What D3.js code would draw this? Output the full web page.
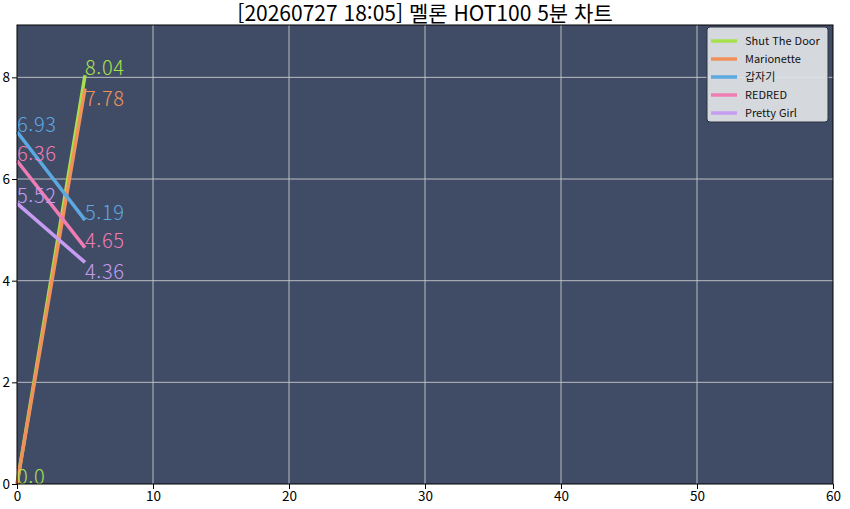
<!DOCTYPE html>
<html lang="ko">
<head>
<meta charset="UTF-8">
<script src="https://d3js.org/d3.v7.min.js"></script>
<title>melon hot100</title>
<style>
  body { margin: 0; background: #fff; }
  text { font-family: "Noto Sans CJK KR", "Noto Sans", sans-serif; }
</style>
</head>
<body>
<script>
// 데이터
var songs = ["Shut The Door", "Marionette", "갑자기", "REDRED", "Pretty Girl"];
var colors = ["#a6e04e", "#f0915a", "#5ca8e0", "#f07cb4", "#c69cf0"];
var times = [0, 5];
var values = [
  [0.0, 8.04],
  [0.0, 7.78],
  [6.93, 5.19],
  [6.36, 4.65],
  [5.52, 4.36]
];
var xTicks = [0, 10, 20, 30, 40, 50, 60];
var yTicks = [0, 2, 4, 6, 8];
var title = "[20260727 18:05] 멜론 HOT100 5분 차트";

var W = 850, H = 509;
var m = { left: 17, right: 17, top: 25, bottom: 25 };

var svg = d3.select("body").append("svg")
  .attr("width", W).attr("height", H);

var x = d3.scaleLinear().domain([0, 60]).range([m.left, W - m.right]);
var y = d3.scaleLinear().domain([0, 9.03]).range([H - m.bottom, m.top]);

// 배경
svg.append("rect")
  .attr("x", x(0)).attr("y", y(9.03))
  .attr("width", x(60) - x(0)).attr("height", y(0) - y(9.03))
  .attr("fill", "#404c66");

// 그리드
svg.append("g").selectAll("line").data(xTicks.slice(1, -1)).enter().append("line")
  .attr("x1", function(d) { return x(d); }).attr("x2", function(d) { return x(d); })
  .attr("y1", y(0)).attr("y2", y(9.03))
  .attr("stroke", "#c9c9cc").attr("stroke-width", 0.9);
svg.append("g").selectAll("line").data(yTicks.slice(1)).enter().append("line")
  .attr("x1", x(0)).attr("x2", x(60))
  .attr("y1", function(d) { return y(d); }).attr("y2", function(d) { return y(d); })
  .attr("stroke", "#c9c9cc").attr("stroke-width", 0.9);

// 선
var line = d3.line()
  .x(function(d, i) { return x(times[i]); })
  .y(function(d) { return y(d); });

svg.append("g").selectAll("path").data(values).enter().append("path")
  .attr("d", line)
  .attr("fill", "none")
  .attr("stroke", function(d, i) { return colors[i]; })
  .attr("stroke-width", 3.5);

// 값 라벨 (겹치면 아래로)
var placed = [];
var labels = svg.append("g");
values.forEach(function(vals, s) {
  vals.forEach(function(v, i) {
    var px = x(times[i]), py = y(v);
    var txt = v.toFixed(2).replace(/0$/, "");
    if (v === 0) txt = "0.0";
    var dup = placed.some(function(p) { return p.t === txt && p.x === px && p.y === py; });
    if (dup) return;
    var base = py;
    var hit = placed.some(function(p) {
      return Math.abs(p.x - px) < 30 && Math.abs(p.b - base) < 15;
    });
    if (hit) base = py + 17;
    placed.push({ t: txt, x: px, y: py, b: base });
    labels.append("text")
      .attr("x", px)
      .attr("y", base)
      .attr("fill", colors[s])
      .attr("font-size", 20)
      .attr("font-weight", 300)
      .attr("letter-spacing", 0.6)
      .text(txt);
  });
});

// 축
var xAxis = d3.axisBottom(x).tickValues(xTicks).tickSize(5).tickPadding(2);
var yAxis = d3.axisLeft(y).tickValues(yTicks).tickSize(5).tickPadding(2);

var gx = svg.append("g").attr("transform", "translate(0," + y(0) + ")").call(xAxis);
var gy = svg.append("g").attr("transform", "translate(" + x(0) + ",0)").call(yAxis);
[gx, gy].forEach(function(g) {
  g.select(".domain").remove();
  g.selectAll("text").attr("font-size", 13.5).attr("fill", "#000")
    .style("font-family", "'Noto Sans CJK KR', sans-serif");
  g.selectAll("line").attr("stroke", "#000");
});

// 테두리
svg.append("rect")
  .attr("x", x(0)).attr("y", y(9.03))
  .attr("width", x(60) - x(0)).attr("height", y(0) - y(9.03))
  .attr("fill", "none").attr("stroke", "#000").attr("stroke-width", 1);

// 제목
svg.append("text")
  .attr("x", (x(0) + x(60)) / 2).attr("y", 20.5)
  .attr("text-anchor", "middle")
  .attr("font-size", 21)
  .attr("fill", "#000")
  .text(title);

// 범례
var lg = svg.append("g").attr("transform", "translate(707,27)");
lg.append("rect")
  .attr("width", 121).attr("height", 95).attr("rx", 3)
  .attr("fill", "#dde0e5").attr("fill-opacity", 0.95)
  .attr("stroke", "#2a3040").attr("stroke-width", 1);
var item = lg.selectAll("g.item").data(songs).enter().append("g")
  .attr("transform", function(d, i) { return "translate(0," + (14 + i * 18) + ")"; });
item.append("line")
  .attr("x1", 4).attr("x2", 30).attr("y1", 0).attr("y2", 0)
  .attr("stroke", function(d, i) { return colors[i]; })
  .attr("stroke-width", 3.5);
item.append("text")
  .attr("x", 38).attr("y", 4)
  .attr("font-size", 11)
  .attr("fill", "#111")
  .text(function(d) { return d; });
</script>
</body>
</html>
